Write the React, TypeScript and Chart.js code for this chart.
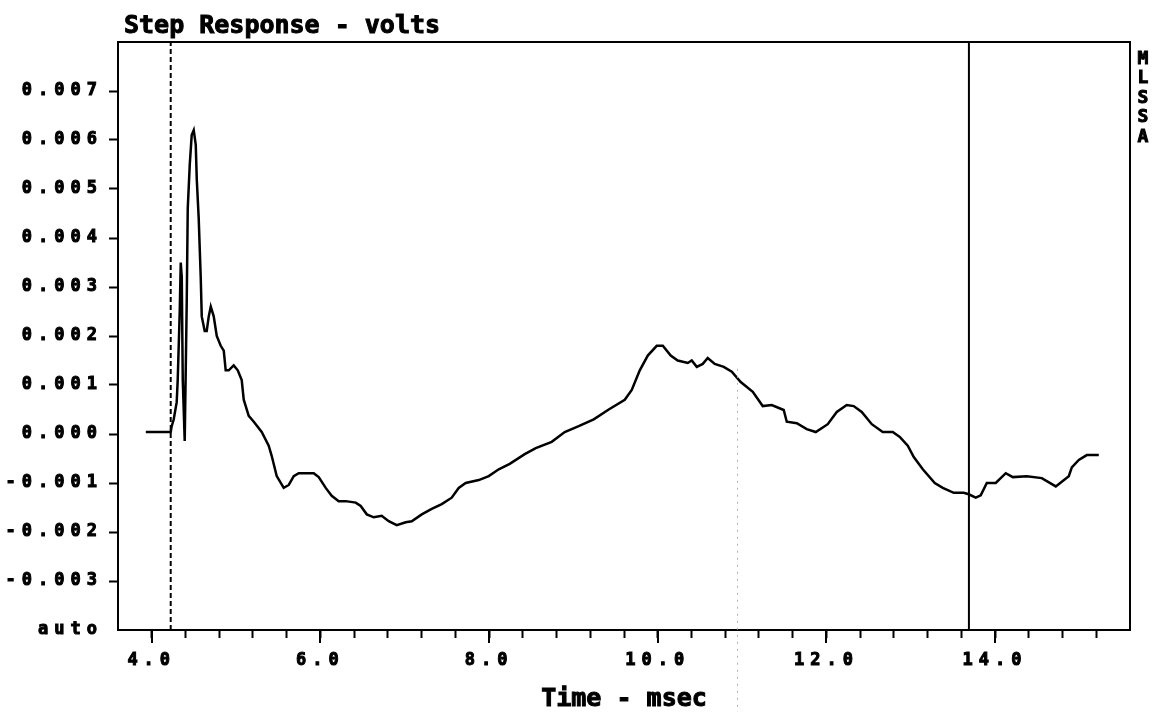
import React, { useEffect, useRef } from "react";
import { Chart, registerables } from "chart.js";

Chart.register(...registerables);

// ---- data ----
const timeMs = [
  3.93, 4.225, 4.237, 4.261, 4.296, 4.308, 4.332, 4.344, 4.356, 4.368, 4.391, 4.415,
  4.427, 4.451, 4.474, 4.498, 4.522, 4.534, 4.557, 4.581, 4.593, 4.628, 4.652, 4.676,
  4.7, 4.735, 4.771, 4.818, 4.854, 4.877, 4.913, 4.972, 5.02, 5.067, 5.091, 5.15,
  5.21, 5.304, 5.387, 5.423, 5.482, 5.565, 5.625, 5.684, 5.743, 5.826, 5.921, 5.98,
  6.063, 6.134, 6.217, 6.3, 6.419, 6.478, 6.55, 6.633, 6.727, 6.81, 6.905, 7.012,
  7.083, 7.202, 7.32, 7.439, 7.557, 7.64, 7.723, 7.878, 7.996, 8.115, 8.245, 8.423,
  8.554, 8.743, 8.897, 9.063, 9.241, 9.419, 9.609, 9.692, 9.787, 9.882, 9.988, 10.06,
  10.154, 10.237, 10.356, 10.403, 10.463, 10.534, 10.593, 10.676, 10.783, 10.878,
  10.984, 11.127, 11.245, 11.352, 11.494, 11.53, 11.649, 11.767, 11.874, 12.016,
  12.123, 12.241, 12.324, 12.419, 12.538, 12.668, 12.787, 12.87, 12.965, 13.036,
  13.143, 13.285, 13.38, 13.51, 13.629, 13.688, 13.771, 13.83, 13.902, 14.008,
  14.127, 14.21, 14.376, 14.554, 14.72, 14.874, 14.91, 14.993, 15.087, 15.23,
];

const stepVolts = [
  0.00004, 0.00004, 0.00016, 0.0003, 0.00065, 0.0011, 0.0025, 0.0035, 0.0032, 0.0011,
  -0.00014, 0.0027, 0.0046, 0.0055, 0.0061, 0.0062, 0.0059, 0.0052, 0.0044, 0.0032,
  0.0024, 0.0021, 0.0021, 0.0024, 0.0026, 0.0024, 0.002, 0.0018, 0.0017, 0.0013,
  0.0013, 0.0014, 0.0013, 0.0011, 0.0007, 0.00037, 0.00025, 0.00004, -0.00024,
  -0.00045, -0.00086, -0.0011, -0.00104, -0.00086, -0.0008, -0.0008, -0.0008,
  -0.00088, -0.0011, -0.00126, -0.00137, -0.00137, -0.0014, -0.00147, -0.00164,
  -0.0017, -0.00167, -0.00178, -0.00186, -0.0018, -0.00178, -0.00164, -0.00153,
  -0.00143, -0.0013, -0.0011, -0.001, -0.00094, -0.00086, -0.00072, -0.00061,
  -0.00041, -0.00029, -0.00016, 0.00004, 0.00016, 0.0003, 0.0005, 0.0007, 0.0009,
  0.0013, 0.0016, 0.0018, 0.0018, 0.0016, 0.0015, 0.00145, 0.0015, 0.00137, 0.00143,
  0.00155, 0.00143, 0.00137, 0.00127, 0.00106, 0.00086, 0.00057, 0.00059, 0.00049,
  0.00025, 0.00022, 0.0001, 0.00004, 0.0002, 0.00045, 0.00059, 0.00057, 0.00045,
  0.0002, 0.00004, 0.00004, -0.00006, -0.00024, -0.00047, -0.00072, -0.001, -0.0011,
  -0.0012, -0.0012, -0.00123, -0.0013, -0.00125, -0.001, -0.001, -0.0008, -0.00088,
  -0.00086, -0.0009, -0.00107, -0.00086, -0.00068, -0.00053, -0.00043, -0.00043,
];

const startCursorMs = 4.225; // dashed cursor
const endCursorMs = 13.69; // solid cursor
const markerMs = 10.94; // faint dotted marker
const markerTopVolts = 0.00125;

const xRange = [3.6, 15.6];
const yRange = [-0.004, 0.008];
const xLabelValues = [4, 6, 8, 10, 12, 14];

const titleText = "Step Response - volts";
const xAxisTitle = "Time - msec";
const sideLetters = ["M", "L", "S", "S", "A"];

const MONO = "'DejaVu Sans Mono', 'Liberation Mono', monospace";

export default function App() {
  const ref = useRef<HTMLCanvasElement | null>(null);

  useEffect(() => {
    if (!ref.current) return;
    document.body.style.margin = "0";

    const near = (a: number, b: number) => Math.abs(a - b) < 1e-6;

    const decor = {
      id: "decor",
      beforeDraw(chart: any) {
        const ctx = chart.ctx;
        ctx.save();
        ctx.fillStyle = "#fff";
        ctx.fillRect(0, 0, chart.width, chart.height);
        ctx.restore();
        (ctx as any).letterSpacing = "6px";
      },
      afterDraw(chart: any) {
        const ctx = chart.ctx;
        const { left, right, top, bottom } = chart.chartArea;
        const xs = chart.scales.x;
        const ys = chart.scales.y;
        (ctx as any).letterSpacing = "0px";
        ctx.save();
        // frame
        ctx.strokeStyle = "#000";
        ctx.lineWidth = 2;
        ctx.strokeRect(left, top, right - left, bottom - top);
        // longer major ticks
        ctx.lineWidth = 2;
        for (const v of xLabelValues) {
          const px = Math.round(xs.getPixelForValue(v));
          ctx.beginPath();
          ctx.moveTo(px, bottom);
          ctx.lineTo(px, bottom + 13);
          ctx.stroke();
        }
        // faint dotted marker
        const mx = Math.round(xs.getPixelForValue(markerMs)) + 0.5;
        ctx.strokeStyle = "#b0b0b0";
        ctx.lineWidth = 1;
        ctx.setLineDash([2, 5]);
        ctx.beginPath();
        ctx.moveTo(mx, ys.getPixelForValue(markerTopVolts) - 4);
        ctx.lineTo(mx, chart.height);
        ctx.stroke();
        ctx.setLineDash([]);
        // texts
        ctx.fillStyle = "#000";
        ctx.strokeStyle = "#000";
        ctx.lineWidth = 1;
        ctx.font = `bold 25px ${MONO}`;
        ctx.textAlign = "left";
        ctx.textBaseline = "alphabetic";
        ctx.fillText(titleText, left + 6, top - 9);
        ctx.strokeText(titleText, left + 6, top - 9);
        ctx.textAlign = "center";
        ctx.fillText(xAxisTitle, (left + right) / 2, chart.height - 6);
        ctx.strokeText(xAxisTitle, (left + right) / 2, chart.height - 6);
        ctx.font = `bold 18px ${MONO}`;
        ctx.textBaseline = "middle";
        sideLetters.forEach((s, i) => {
          const yy = top + 17 + i * 19.6;
          ctx.fillText(s, right + 13, yy);
          ctx.strokeText(s, right + 13, yy);
        });
        ctx.restore();
      },
    };

    const hideEdge = (lo: number, hi: number) => (c: any) => {
      const v = c.tick ? c.tick.value : null;
      if (v === null || v === undefined) return "#000";
      return v <= lo || v >= hi ? "rgba(0,0,0,0)" : "#000";
    };

    const tickFont = { family: MONO, size: 17, weight: "bold" as const };

    const chart = new Chart(ref.current, {
      type: "line",
      data: {
        datasets: [
          {
            data: timeMs.map((t, i) => ({ x: t, y: stepVolts[i] })),
            borderColor: "#000",
            borderWidth: 2.5,
            pointRadius: 0,
            tension: 0,
            fill: false,
          },
          {
            data: [
              { x: startCursorMs, y: yRange[0] },
              { x: startCursorMs, y: yRange[1] },
            ],
            borderColor: "#000",
            borderWidth: 2,
            borderDash: [5, 3],
            pointRadius: 0,
          },
          {
            data: [
              { x: endCursorMs, y: yRange[0] },
              { x: endCursorMs, y: yRange[1] },
            ],
            borderColor: "#000",
            borderWidth: 2,
            pointRadius: 0,
          },
        ],
      },
      options: {
        animation: false,
        responsive: false,
        devicePixelRatio: 1,
        layout: { padding: { top: 42, right: 29, left: 0, bottom: 0 } },
        plugins: {
          legend: { display: false },
          tooltip: { enabled: false },
          title: { display: false },
        },
        scales: {
          x: {
            type: "linear",
            min: xRange[0],
            max: xRange[1],
            afterFit: (s: any) => {
              s.height = 82;
            },
            border: { display: true, color: "#000", width: 2 },
            grid: {
              drawOnChartArea: false,
              drawTicks: true,
              tickLength: 8,
              tickWidth: 2,
              tickColor: hideEdge(xRange[0] + 0.1, xRange[1] - 0.1),
            },
            ticks: {
              stepSize: 0.4,
              autoSkip: false,
              maxRotation: 0,
              padding: 12,
              color: "#000",
              textStrokeColor: "#000",
              textStrokeWidth: 1,
              font: tickFont,
              callback: (v: any) => {
                const n = Number(v);
                return xLabelValues.some((l) => near(l, n)) ? n.toFixed(1) : "";
              },
            },
          },
          y: {
            type: "linear",
            min: yRange[0],
            max: yRange[1],
            afterFit: (s: any) => {
              s.width = 118;
            },
            border: { display: true, color: "#000", width: 2 },
            grid: {
              drawOnChartArea: false,
              drawTicks: true,
              tickLength: 9,
              tickWidth: 2,
              tickColor: hideEdge(yRange[0] + 0.0001, yRange[1] - 0.0001),
            },
            ticks: {
              stepSize: 0.001,
              autoSkip: false,
              padding: 6,
              color: "#000",
              textStrokeColor: "#000",
              textStrokeWidth: 1,
              font: tickFont,
              callback: (v: any) => {
                const n = Number(v);
                if (n <= yRange[0] + 0.00001) return "auto";
                if (n >= yRange[1] - 0.00001) return "";
                return n.toFixed(3);
              },
            },
          },
        },
      },
      plugins: [decor],
    } as any);

    return () => chart.destroy();
  }, []);

  return (
    <div style={{ position: "fixed", left: 0, top: 0, width: 1159, height: 712, background: "#fff" }}>
      <canvas ref={ref} width={1159} height={712} />
    </div>
  );
}
